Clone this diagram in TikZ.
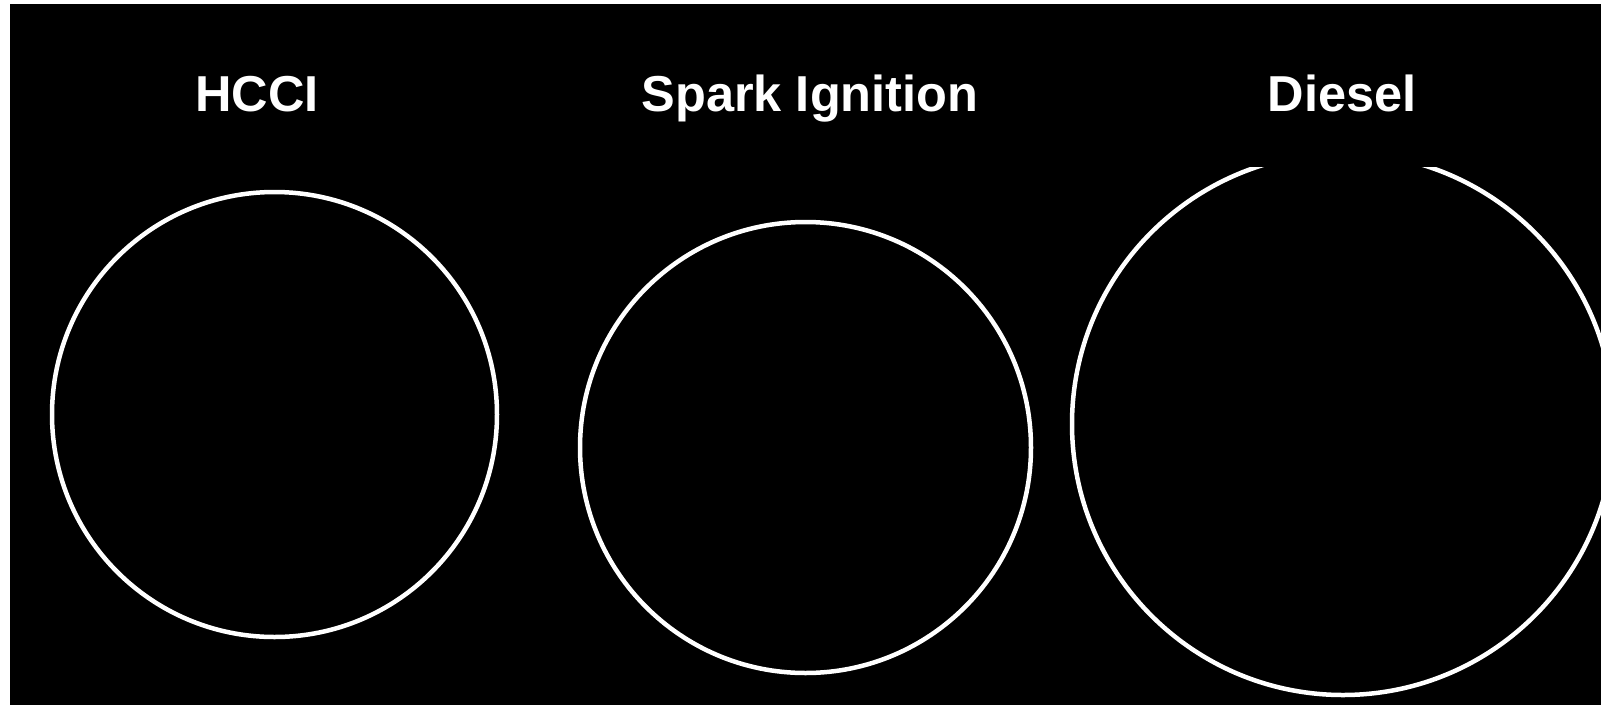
\documentclass[tikz,border=0pt]{standalone}
\usepackage{fontspec}
\setmainfont{Liberation Sans}
\begin{document}
\begin{tikzpicture}[x=1pt,y=-1pt,
  ring/.style={circle, draw=white, line width=4.5pt, inner sep=0pt},
  title/.style={text=white, font=\bfseries\fontsize{50.5}{60}\selectfont, anchor=base, inner sep=0pt}]
\useasboundingbox (0,0) rectangle (1601,705);
\fill[white] (0,0) rectangle (1601,705);
\fill[black] (10,4) rectangle (1601,705);
\node[title] (t1) at (257,111) {HCCI};
\node[title] (t2) at (810,111) {Spark Ignition};
\node[title] (t3) at (1342,111) {Diesel};
\node[ring, minimum size=445pt] (c1) at (274.5,414.5) {};
\node[ring, minimum size=451pt] (c2) at (805.5,447.5) {};
\begin{scope}
\clip (10,167) rectangle (1601,705);
\node[ring, minimum size=542pt] (c3) at (1343,424) {};
\end{scope}
\end{tikzpicture}
\end{document}
